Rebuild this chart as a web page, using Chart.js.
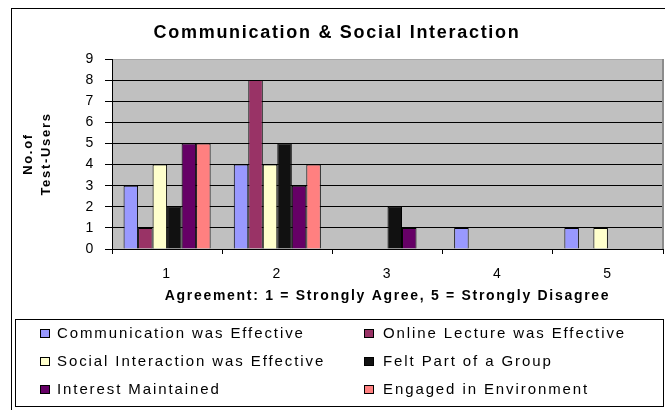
<!DOCTYPE html>
<html>
<head>
<meta charset="utf-8">
<script src="https://cdn.jsdelivr.net/npm/chart.js@4/dist/chart.umd.min.js"></script>
<style>
  html, body { margin: 0; padding: 0; background: #fff; }
  #wrap { position: relative; width: 665px; height: 410px; }
</style>
</head>
<body>
<div id="wrap"><canvas id="chart" width="665" height="410"></canvas></div>
<script>
// === DATA ===
const categories = ['1', '2', '3', '4', '5'];
const seriesNames = [
    'Communication was Effective',
    'Online Lecture was Effective',
    'Social Interaction was Effective',
    'Felt Part of a Group',
    'Interest Maintained',
    'Engaged in Environment'
];
const communication = [3, 4, 0, 1, 1];
const onlineLecture = [1, 8, 0, 0, 0];
const socialInteraction = [4, 4, 0, 0, 1];
const feltPartOfGroup = [2, 5, 2, 0, 0];
const interestMaintained = [5, 3, 1, 0, 0];
const engagedInEnvironment = [5, 4, 0, 0, 0];
const yMin = 0, yMax = 9, yStep = 1;

const seriesColors = ['#9999ff', '#993366', '#ffffcc', '#111111', '#660066', '#ff8080'];
const FONT = "'Liberation Sans', Arial, sans-serif";

const allSeries = [communication, onlineLecture, socialInteraction, feltPartOfGroup, interestMaintained, engagedInEnvironment];

// === PLUGINS: plot background, frame, 2-column legend ===
// the old Excel export renders its text quite loosely spaced, so widen it a bit
const excelFrame = {
    id: 'excelFrame',
    beforeDraw(chart) {
        const { ctx, chartArea: a } = chart;
        ctx.save();
        ctx.fillStyle = '#c0c0c0';
        ctx.fillRect(a.left, a.top, a.right - a.left, a.bottom - a.top);
        ctx.restore();
        ctx.letterSpacing = '1.7px';
    },
    afterDraw(chart) {
        const { ctx, chartArea: a } = chart;
        ctx.save();
        // outer chart border (runs off the right/bottom edge)
        ctx.strokeStyle = '#000';
        ctx.lineWidth = 1;
        ctx.strokeRect(11.5, 8.5, 720, 440);
        // plot area right edge
        ctx.strokeStyle = '#8c8c8c';
        ctx.lineWidth = 2;
        ctx.beginPath();
        ctx.moveTo(a.right, a.top);
        ctx.lineTo(a.right, a.bottom);
        ctx.stroke();

        // legend box
        ctx.lineWidth = 1;
        ctx.strokeStyle = '#000';
        ctx.fillStyle = '#fff';
        ctx.fillRect(15.5, 319.5, 648, 87);
        ctx.strokeRect(15.5, 319.5, 648, 87);
        const boxX = [40, 364];
        const textX = [57, 383];
        const rowY = [333, 361, 389];
        ctx.font = '15px ' + FONT;
        ctx.letterSpacing = '1.9px';
        ctx.textBaseline = 'middle';
        ctx.textAlign = 'left';
        chart.data.datasets.forEach((ds, i) => {
            const col = i % 2, y = rowY[Math.floor(i / 2)];
            ctx.fillStyle = ds.backgroundColor;
            ctx.fillRect(boxX[col] + 0.5, y - 3.5, 9, 8);
            ctx.strokeRect(boxX[col] + 0.5, y - 3.5, 9, 8);
            ctx.fillStyle = '#000';
            ctx.fillText(ds.label, textX[col], y + 1);
        });
        ctx.restore();
    }
};

// === CHART ===
const ctx = document.getElementById('chart').getContext('2d');
const chart = new Chart(ctx, {
    type: 'bar',
    data: {
        labels: categories,
        datasets: seriesNames.map((name, i) => ({
            label: name,
            data: allSeries[i],
            backgroundColor: seriesColors[i],
            borderColor: '#000',
            borderWidth: 1,
            categoryPercentage: 0.79,
            barPercentage: 1
        }))
    },
    options: {
        responsive: false,
        animation: false,
        layout: { padding: { left: 11, top: 8, right: 2, bottom: 101 } },
        plugins: {
            legend: { display: false },
            tooltip: { enabled: false },
            title: {
                display: true,
                text: 'Communication & Social Interaction',
                color: '#000',
                font: { family: FONT, size: 18, weight: 'bold', lineHeight: 1.2 },
                padding: { top: 14.7, bottom: 14.7 }
            }
        },
        scales: {
            x: {
                afterFit: s => { s.height = 60; },
                ticks: { color: '#000', font: { family: FONT, size: 14 }, padding: 12 },
                grid: { offset: true, drawOnChartArea: false, tickLength: 5, tickColor: '#000', color: '#000' },
                border: { color: '#000', width: 1 },
                title: {
                    display: true,
                    text: 'Agreement: 1 = Strongly Agree, 5 = Strongly Disagree',
                    color: '#000',
                    font: { family: FONT, size: 14, weight: 'bold', lineHeight: 1.2 },
                    padding: { top: 0, bottom: 4.6 }
                }
            },
            y: {
                min: yMin,
                max: yMax,
                afterFit: s => { s.width = 101; },
                ticks: { stepSize: yStep, color: '#000', font: { family: FONT, size: 14 }, padding: 10 },
                grid: {
                    color: c => (c.tick && c.tick.value === yMax) ? '#a8a8a8' : '#000',
                    tickColor: '#000',
                    lineWidth: 1,
                    tickLength: 7
                },
                border: { color: '#000', width: 1 },
                title: {
                    display: true,
                    text: ['No.of', 'Test-Users'],
                    color: '#000',
                    font: { family: FONT, size: 13, weight: 'bold', lineHeight: 1.45 },
                    padding: { top: 7.5, bottom: 0 }
                }
            }
        }
    },
    plugins: [excelFrame]
});
</script>
</body>
</html>
